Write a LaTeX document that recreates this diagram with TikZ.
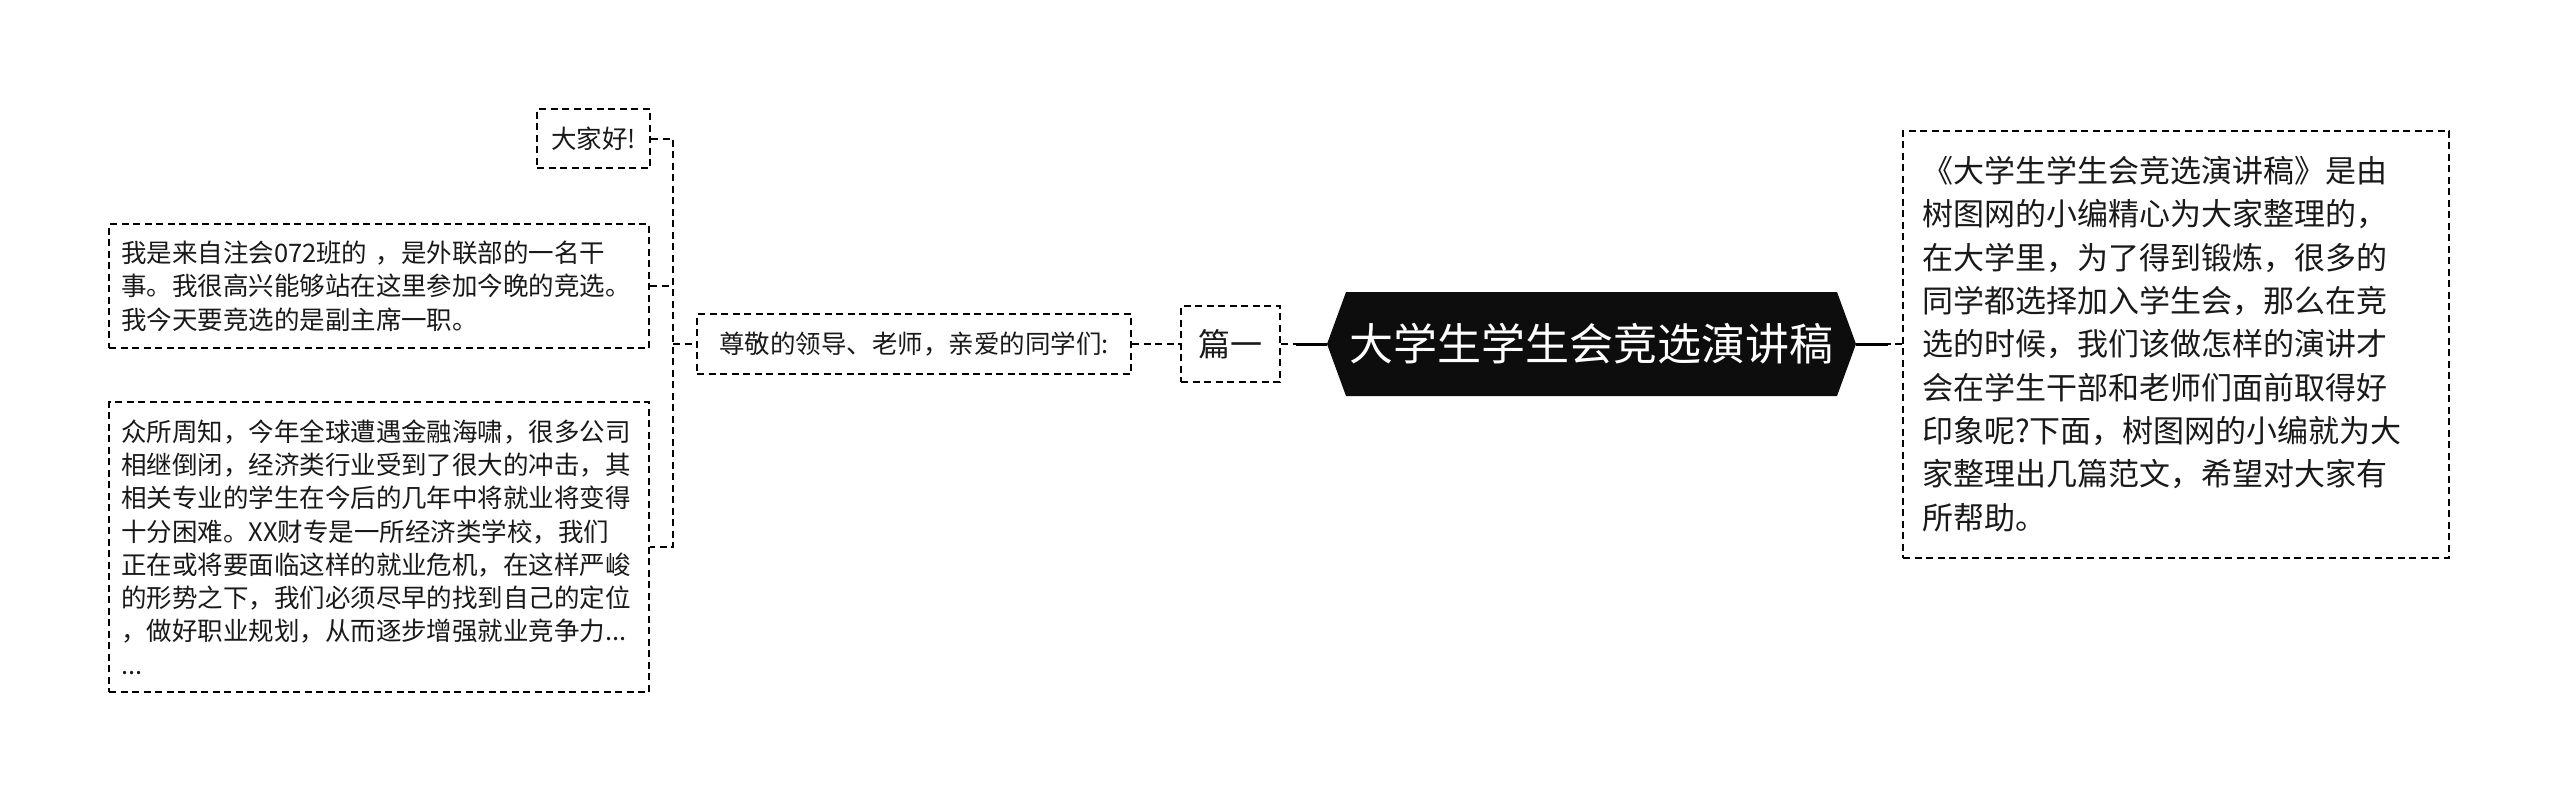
\documentclass[tikz,border=0pt]{standalone}
\usepackage{fontspec}
\setmainfont{Noto Sans CJK SC}
\usetikzlibrary{calc}
\begin{document}
\begin{tikzpicture}[x=1pt,y=-1pt,
  dline/.style={draw=black, line width=2pt, dash pattern=on 7pt off 4.5pt},
  box/.style={dline, rectangle, inner sep=0pt, anchor=center, text=black!90},
  conn/.style={line width=2pt, dash pattern=on 7pt off 4.5pt},
  solidconn/.style={line width=3pt},
  small/.style={font=\fontsize{25.5}{33.3}\selectfont},
  big/.style={font=\fontsize{31}{43.3}\selectfont},
]
\useasboundingbox (0,0) rectangle (2560,803);
\fill[white] (0,0) rectangle (2560,803);

% left column
\node[box, small, minimum width=113pt, minimum height=59pt] (hello) at (593.5,138.5) {大家好!};
\node[box, small, minimum width=540pt, minimum height=124pt, text width=516pt, align=left] (intro) at (379,286)
  {我是来自注会072班的 ，是外联部的一名干\\事。我很高兴能够站在这里参加今晚的竞选。\\我今天要竞选的是副主席一职。};
\node[box, small, minimum width=540pt, minimum height=290pt, text width=516pt, align=left] (news) at (379,547)
  {众所周知，今年全球遭遇金融海啸，很多公司\\相继倒闭，经济类行业受到了很大的冲击，其\\相关专业的学生在今后的几年中将就业将变得\\十分困难。XX财专是一所经济类学校，我们\\正在或将要面临这样的就业危机，在这样严峻\\的形势之下，我们必须尽早的找到自己的定位\\，做好职业规划，从而逐步增强就业竞争力...\\...};

% middle
\node[box, small, minimum width=434pt, minimum height=60pt] (greet) at (914,344) {尊敬的领导、老师，亲爱的同学们:};
\node[box, font=\fontsize{32}{38}\selectfont, minimum width=99pt, minimum height=76pt] (pian) at (1230.5,344) {篇一};

% central hexagon
\coordinate (hexc) at (1591.5,344);
\fill[black!95] ($(hexc)+(-245.5,-52)$) -- ($(hexc)+(-264.5,0)$) -- ($(hexc)+(-245.5,52)$)
  -- ($(hexc)+(245.5,52)$) -- ($(hexc)+(264.5,0)$) -- ($(hexc)+(245.5,-52)$) -- cycle;
\node[text=white, font=\fontsize{44}{50}\selectfont, minimum width=491pt, minimum height=104pt, inner sep=0pt] (hex) at (hexc) {大学生学生会竞选演讲稿};
\coordinate (hexL) at ($(hex.west)+(-19,0)$);
\coordinate (hexR) at ($(hex.east)+(19,0)$);

% right box
\node[box, big, minimum width=546pt, minimum height=427pt, text width=508pt, align=left] (right) at (2176,344)
  {《大学生学生会竞选演讲稿》是由\\树图网的小编精心为大家整理的，\\在大学里，为了得到锻炼，很多的\\同学都选择加入学生会，那么在竞\\选的时候，我们该做怎样的演讲才\\会在学生干部和老师们面前取得好\\印象呢?下面，树图网的小编就为大\\家整理出几篇范文，希望对大家有\\所帮助。};

% connectors
\coordinate (bx) at (673,344);
\draw[conn] (hello.east) -| (bx |- news.east) -- (news.east);
\draw[conn] (intro.east) -- (intro.east -| bx);
\draw[conn] (bx) -- (greet.west);
\draw[conn] (greet.east) -- (pian.west);

\coordinate (lj) at ($(pian.east)+(15,0)$);
\draw[solidconn] (hexL) -- (lj);
\draw[conn] (pian.east) -- (lj);

\coordinate (rj) at ($(right.west)+(-14,0)$);
\draw[solidconn] (hexR) -- (rj);
\draw[conn] (right.west) -- (rj);
\end{tikzpicture}
\end{document}
